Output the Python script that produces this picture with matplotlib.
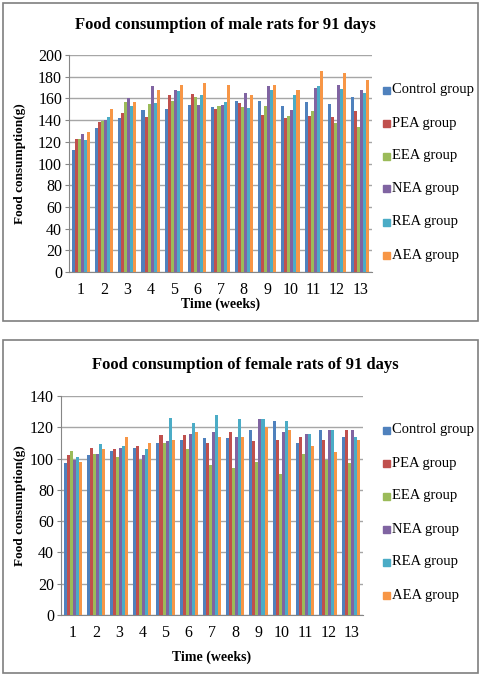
import matplotlib
matplotlib.use('Agg')
import matplotlib.pyplot as plt
import numpy as np
from matplotlib.patches import Rectangle

weeks = ['1', '2', '3', '4', '5', '6', '7', '8', '9', '10', '11', '12', '13']
groups = ['Control group', 'PEA group', 'EEA group', 'NEA group', 'REA group', 'AEA group']
colores = ['#4F81BD', '#C0504D', '#9BBB59', '#8064A2', '#4BACC6', '#F79646']

# machos (g)
male_control = [112, 133, 142, 149, 150, 154, 152, 158, 158, 153, 157, 155, 161]
male_pea = [123, 138, 147, 143, 163, 164, 150, 156, 145, 142, 144, 143, 148]
male_eea = [123, 139, 157, 155, 158, 161, 153, 152, 153, 144, 148, 137, 134]
male_nea = [127, 140, 160, 171, 168, 154, 154, 165, 171, 149, 170, 172, 168]
male_rea = [122, 143, 153, 156, 167, 163, 157, 151, 168, 163, 171, 169, 165]
male_aea = [129, 150, 157, 168, 172, 174, 172, 163, 172, 168, 185, 183, 177]

# hembras (g)
female_control = [97, 102, 105, 107, 110, 112, 113, 113, 118, 124, 110, 118, 114]
female_pea = [102, 107, 106, 108, 115, 115, 110, 117, 111, 112, 114, 112, 118]
female_eea = [105, 103, 101, 99, 110, 106, 96, 94, 98, 90, 103, 99, 97]
female_nea = [99, 103, 107, 102, 111, 116, 117, 114, 125, 117, 116, 118, 118]
female_rea = [101, 109, 108, 106, 126, 123, 128, 125, 125, 124, 116, 118, 114]
female_aea = [98, 106, 114, 110, 112, 117, 114, 114, 120, 118, 108, 104, 112]

W, H = 484, 676
fig = plt.figure(figsize=(W / 100, H / 100), dpi=100)
serif = 'Liberation Serif'


def px(x0, y0, x1, y1):
    # caja en pixeles -> coordenadas de figura
    return [x0 / W, 1 - y1 / H, (x1 - x0) / W, (y1 - y0) / H]


def graficar(caja, series, ymax, paso, titulo, titulo_xy, xlab_y, leg_y):
    ax = fig.add_axes(px(*caja))
    x = np.arange(len(weeks))
    ancho = 0.13
    for i, (vals, c) in enumerate(zip(series, colores)):
        ax.bar(x + (i - 2.5) * ancho, vals, ancho, color=c, label=groups[i], zorder=3)
    ax.set_xlim(-0.5, len(weeks) - 0.5)
    ax.set_ylim(0, ymax)
    ax.set_yticks(np.arange(0, ymax + 1, paso))
    ax.set_xticks(x)
    ax.set_xticklabels(weeks)
    ax.yaxis.grid(True, color='#A6A6A6', lw=1.0, zorder=0)
    for s in ['top', 'right']:
        ax.spines[s].set_visible(False)
    ax.spines['left'].set_color('#868686')
    ax.spines['bottom'].set_color('#868686')
    ax.tick_params(axis='y', length=3, color='#868686', labelsize=11.5, pad=2)
    ax.tick_params(axis='x', length=0, labelsize=11.5, pad=7)
    for t in ax.get_xticklabels() + ax.get_yticklabels():
        t.set_fontfamily(serif)
    fig.text(titulo_xy[0] / W, 1 - titulo_xy[1] / H, titulo, ha='center', va='center',
             fontsize=12, fontweight='bold', family=serif)
    fig.text(20 / W, 1 - (caja[1] + caja[3]) / 2 / H, 'Food consumption(g)', rotation=90,
             ha='center', va='center', fontsize=9.5, fontweight='bold', family=serif)
    fig.text((caja[0] + caja[2]) / 2 / W, 1 - xlab_y / H, 'Time (weeks)', ha='center',
             va='center', fontsize=10, fontweight='bold', family=serif)
    for i, g in enumerate(groups):
        yy = leg_y + i * 33
        fig.patches.append(Rectangle((383 / W, 1 - (yy + 3.5) / H), 7 / W, 7 / H,
                                     color=colores[i], transform=fig.transFigure))
        fig.text(392 / W, 1 - yy / H, g, ha='left', va='center', fontsize=10.5, family=serif)
    return ax


# marcos de cada panel
for y0, y1 in [(3, 321), (340, 673)]:
    fig.patches.append(Rectangle((3 / W, 1 - y1 / H), 475 / W, (y1 - y0) / H, fill=False,
                                 edgecolor='#7F7F7F', lw=1.2, transform=fig.transFigure))

graficar((69, 55, 372, 272),
         [male_control, male_pea, male_eea, male_nea, male_rea, male_aea],
         200, 20, 'Food consumption of male rats for 91 days', (225, 25), 304, 90)
graficar((61, 396, 363, 615),
         [female_control, female_pea, female_eea, female_nea, female_rea, female_aea],
         140, 20, 'Food consumption of female rats of 91 days', (245, 365), 657, 430)

plt.savefig('out.png', format='png', dpi=100)
plt.close()
